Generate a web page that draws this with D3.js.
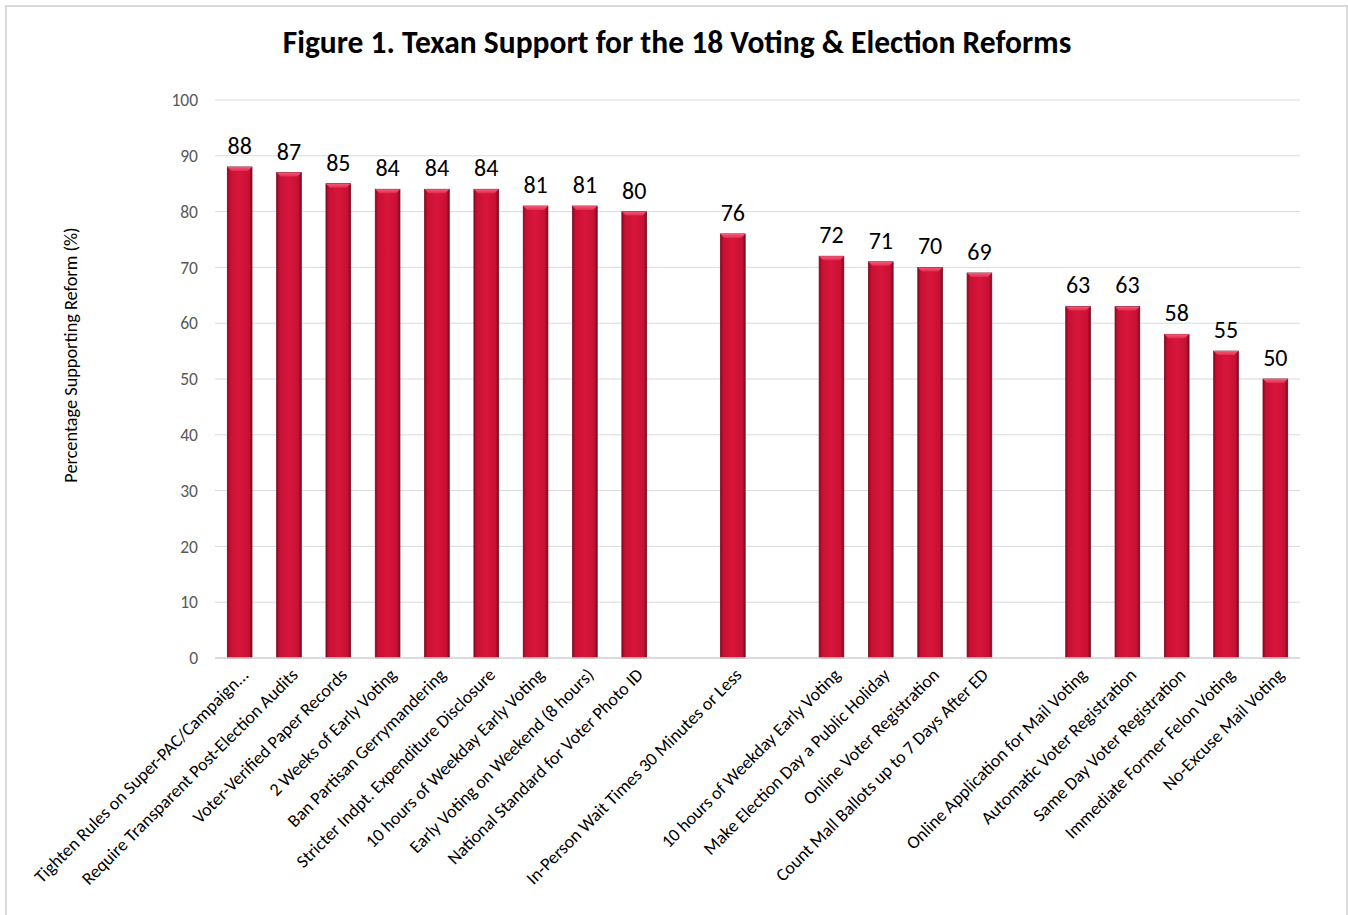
<!DOCTYPE html>
<html>
<head>
<meta charset="utf-8">
<script src="https://cdn.jsdelivr.net/npm/d3@7"></script>
<style>
  body { margin: 0; background: #fff; }
  svg text { font-family: Carlito, Calibri, Lato, "Open Sans", sans-serif; }
</style>
</head>
<body>
<div id="chart"></div>
<script>
// data (blank entries are the empty slots between groups)
const categories = [
  "Tighten Rules on Super-PAC/Campaign...",
  "Require Transparent Post-Election Audits",
  "Voter-Verified Paper Records",
  "2 Weeks of Early Voting",
  "Ban Partisan Gerrymandering",
  "Stricter Indpt. Expenditure Disclosure",
  "10 hours of Weekday Early Voting",
  "Early Voting on Weekend (8 hours)",
  "National Standard for Voter Photo ID",
  "",
  "In-Person Wait Times 30 Minutes or Less",
  "",
  "10 hours of Weekday Early Voting",
  "Make Election Day a Public Holiday",
  "Online Voter Registration",
  "Count Mall Ballots up to 7 Days After ED",
  "",
  "Online Application for Mail Voting",
  "Automatic Voter Registration",
  "Same Day Voter Registration",
  "Immediate Former Felon Voting",
  "No-Excuse Mail Voting"
];
const support = [88, 87, 85, 84, 84, 84, 81, 81, 80, null, 76, null, 72, 71, 70, 69, null, 63, 63, 58, 55, 50];
const yTicks = [0, 10, 20, 30, 40, 50, 60, 70, 80, 90, 100];

const width = 1348, height = 915;
const plotLeft = 215, plotRight = 1300, plotTop = 100, plotBottom = 658;

const svg = d3.select("#chart").append("svg")
  .attr("width", width)
  .attr("height", height);

// outer frame
svg.append("rect")
  .attr("x", 6).attr("y", 6)
  .attr("width", width - 7).attr("height", height + 10)
  .attr("fill", "none").attr("stroke", "#d9d9d9").attr("stroke-width", 2);

// gradients for the bevelled bars
const defs = svg.append("defs");
const body = defs.append("linearGradient").attr("id", "barBody")
  .attr("x1", "0").attr("x2", "1").attr("y1", "0").attr("y2", "0");
body.append("stop").attr("offset", "0%").attr("stop-color", "#8a0b22");
body.append("stop").attr("offset", "12%").attr("stop-color", "#c81034");
body.append("stop").attr("offset", "50%").attr("stop-color", "#d8153b");
body.append("stop").attr("offset", "88%").attr("stop-color", "#c81034");
body.append("stop").attr("offset", "100%").attr("stop-color", "#7a0a1e");

const cap = defs.append("linearGradient").attr("id", "barCap")
  .attr("x1", "0").attr("x2", "0").attr("y1", "0").attr("y2", "1");
cap.append("stop").attr("offset", "0%").attr("stop-color", "#f25d7a");
cap.append("stop").attr("offset", "100%").attr("stop-color", "#e22a4e");

const x = d3.scaleBand()
  .domain(d3.range(categories.length))
  .range([plotLeft, plotRight])
  .paddingInner(0.5)
  .paddingOuter(0.25);

const y = d3.scaleLinear()
  .domain([0, 100])
  .range([plotBottom, plotTop]);

// title
svg.append("text")
  .attr("x", 677).attr("y", 53)
  .attr("text-anchor", "middle")
  .style("font-size", "31.5px").style("font-weight", "bold")
  .text("Figure 1. Texan Support for the 18 Voting & Election Reforms");

// gridlines
svg.append("g").selectAll("line").data(yTicks.filter(t => t > 0)).enter().append("line")
  .attr("x1", plotLeft).attr("x2", plotRight)
  .attr("y1", d => y(d)).attr("y2", d => y(d))
  .attr("stroke", "#d9d9d9").attr("stroke-width", 1);

// y axis labels
const yAx = svg.append("g").attr("transform", `translate(${plotLeft},0)`)
  .call(d3.axisLeft(y).tickValues(yTicks).tickSize(0).tickPadding(17));
yAx.select(".domain").remove();
yAx.selectAll("text").style("font-size", "17.5px").attr("fill", "#595959")
  .style("font-family", "Carlito, Calibri, Lato, sans-serif");

svg.append("text")
  .attr("transform", `translate(71,355) rotate(-90)`)
  .attr("text-anchor", "middle")
  .attr("dy", "0.35em")
  .style("font-size", "18.3px")
  .text("Percentage  Supporting Reform (%)");

// bars
const rows = categories.map((c, i) => ({ i: i, label: c, value: support[i] }))
  .filter(d => d.value !== null);

const bw = x.bandwidth();
const bars = svg.append("g").selectAll("g").data(rows).enter().append("g");

bars.append("rect")
  .attr("x", d => x(d.i))
  .attr("y", d => y(d.value))
  .attr("width", bw)
  .attr("height", d => plotBottom - y(d.value))
  .attr("fill", "url(#barBody)")
  .attr("stroke", "#7a0a1e").attr("stroke-width", 0.8);

bars.append("path")
  .attr("d", d => {
    const x0 = x(d.i), y0 = y(d.value), k = 4;
    return `M${x0},${y0} L${x0 + bw},${y0} L${x0 + bw - k},${y0 + k} L${x0 + k},${y0 + k} Z`;
  })
  .attr("fill", "url(#barCap)");

bars.append("text")
  .attr("x", d => x(d.i) + bw / 2)
  .attr("y", d => y(d.value) - 13)
  .attr("text-anchor", "middle")
  .style("font-size", "24px")
  .text(d => d.value);

// x axis line
svg.append("line")
  .attr("x1", plotLeft).attr("x2", plotRight)
  .attr("y1", plotBottom).attr("y2", plotBottom)
  .attr("stroke", "#d0d0d0").attr("stroke-width", 1.5);

// rotated category labels
svg.append("g").selectAll("text").data(rows).enter().append("text")
  .attr("transform", d => `translate(${x(d.i) + bw / 2 + 10},${plotBottom + 18}) rotate(-45)`)
  .attr("text-anchor", "end")
  .style("font-size", "18px")
  .text(d => d.label);
</script>
</body>
</html>
